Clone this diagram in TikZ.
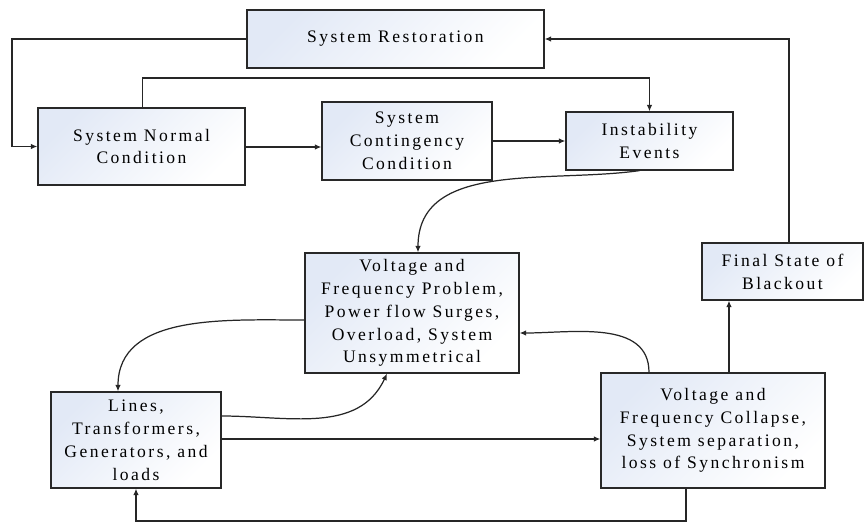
\documentclass[tikz,border=0pt]{standalone}
\usepackage{fontspec}
\setmainfont{Liberation Serif}[LetterSpace=14]
\usepackage{tikz}
\usetikzlibrary{arrows.meta}
\definecolor{boxshade}{RGB}{226,233,246}
\definecolor{boxline}{RGB}{40,40,40}

\begin{document}
\begin{tikzpicture}[>={Latex[length=1.3mm,width=1.1mm]}, line width=0.7pt]
\tikzset{
stagebox/.style={
  draw=boxline,
  line width=0.7pt,
  top color=boxshade,
  bottom color=white,
  shading angle=45,
  align=center,
  inner sep=2pt,
  font=\fontsize{10}{13}\selectfont
  },
link/.style={->, draw=black!85}
}
\useasboundingbox (0,0) rectangle (17.28,-10.44);

\node[stagebox, minimum width=5.94cm, minimum height=1.16cm] (restore) at (7.91,-0.78) {System Restoration};
\node[stagebox, minimum width=4.14cm, minimum height=1.54cm] (normal)  at (2.83,-2.93) {System Normal\\Condition};
\node[stagebox, minimum width=3.40cm, minimum height=1.56cm] (conting) at (8.14,-2.82) {System\\Contingency\\Condition};
\node[stagebox, minimum width=3.34cm, minimum height=1.16cm] (instab)  at (12.99,-2.82) {Instability\\Events};
\node[stagebox, minimum width=4.28cm, minimum height=2.40cm] (problem) at (8.24,-6.26) {Voltage and\\Frequency Problem,\\Power flow Surges,\\Overload, System\\Unsymmetrical};
\node[stagebox, minimum width=3.22cm, minimum height=1.14cm] (blackout) at (15.65,-5.43) {Final State of\\Blackout};
\node[stagebox, minimum width=4.48cm, minimum height=2.30cm] (collapse) at (14.26,-8.61) {Voltage and\\Frequency Collapse,\\System separation,\\loss of Synchronism};
\node[stagebox, minimum width=3.40cm, minimum height=1.92cm] (lines)   at (2.72,-8.80) {Lines,\\Transformers,\\Generators, and\\loads};

% loop round the top
\draw[link] (restore.west) -| (0.24,-2.93) -- (normal.west);
\draw[link] ([xshift=0.02cm]normal.north) |- (3.5,-1.56) -| (instab.north);
\draw[link] (normal.east |- 0,-2.94) -- (conting.west |- 0,-2.94);
\draw[link] (conting.east) -- (instab.west);
\draw[link] (blackout.north -| 15.78,0) |- (restore.east);

% curved links
\draw[link] ([xshift=-0.2cm]instab.south) to[out=188, in=90] ([xshift=0.12cm]problem.north);
\draw[link] ([yshift=-0.14cm]problem.west) to[out=180, in=90] ([xshift=-0.36cm]lines.north);
\draw[link] ([yshift=0.48cm]lines.east) to[out=0, in=-115] ([xshift=-0.5cm]problem.south);
\draw[link] ([xshift=-1.28cm]collapse.north) to[out=90, in=0] ([yshift=-0.4cm]problem.east);

% lower links
\draw[link] ([yshift=0.02cm]lines.east) -- ([yshift=0.02cm]lines.east -| collapse.west);
\draw[link] (collapse.north -| 14.58,0) -- (blackout.south -| 14.58,0);
\draw[link] ([xshift=-0.54cm]collapse.south) |- (2.72,-10.42) -- (lines.south);

\end{tikzpicture}
\end{document}
